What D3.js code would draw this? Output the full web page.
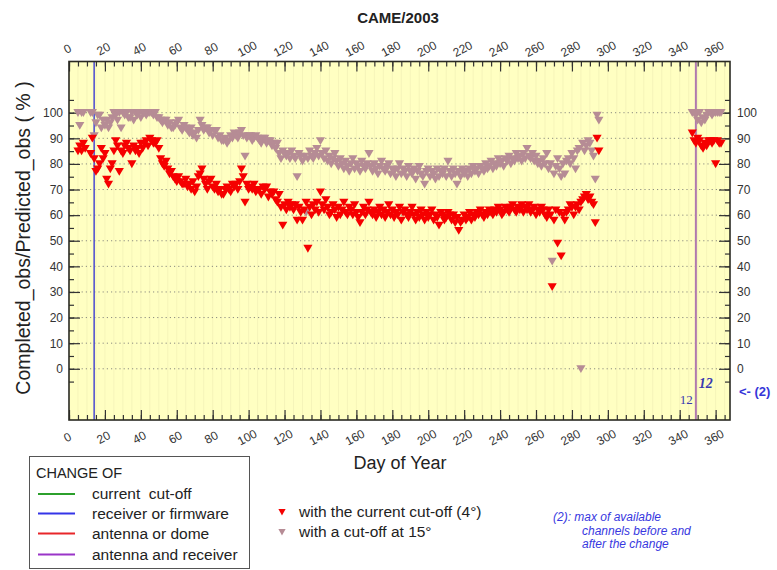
<!DOCTYPE html>
<html>
<head>
<meta charset="utf-8">
<script src="https://cdn.jsdelivr.net/npm/d3@7"></script>
<style>
  body { margin: 0; background: #fff; }
  svg { display: block; font-family: "Liberation Sans", Arial, sans-serif; }
</style>
</head>
<body>
<script>
// DATA
// =============================================================================

const title = "CAME/2003";
const xMajorTicks = [0, 20, 40, 60, 80, 100, 120, 140, 160, 180, 200, 220, 240, 260, 280, 300, 320, 340, 360];
const yMajorTicks = [0, 10, 20, 30, 40, 50, 60, 70, 80, 90, 100];

// first day of each block, then one value per day (null = no value)
const cutoff4FirstDay = 5;
const cutoff4Values = [
  85, 87, 85, 88, 86, null, null, 84, 90, 82,
  77, 78, 80, 86, 82, 84, 74, 72, 78, 80,
  85, 89, 87, 77, 85, 84, 87, 88, 86, 85,
  80, 87, 85, 86, 84, 88, 86, 88, 89, 87,
  90, 89, 88, 88, 89, 86, 82, 80, 79, 81,
  78, 76, 77, 75, 74, 73, 75, 73, 72, 72,
  74, 71, 72, 70, 73, 69, 71, 75, 76, 78,
  74, 72, 70, 73, 74, 71, 70, 72, 69, 70,
  68, 68, 70, 71, 70, 69, 72, 71, 72, 70,
  73, 78, 75, 65, 72, 70, 71, 70, 72, 69,
  70, 70, 68, 71, 70, 71, 67, 69, 68, 69,
  66, 65, 68, 63, 56, 64, 62, 65, 63, 64,
  62, 64, 58, 63, 61, 58, 62, 65, 47, 63,
  60, 64, 62, 65, 61, 69, 64, 62, 66, 63,
  60, 61, 64, 62, 59, 63, 60, 62, 65, 61,
  60, 63, 62, 60, 64, 61, 59, 57, 61, 63,
  60, 62, 65, 61, 60, 62, 59, 61, 63, 60,
  62, 59, 61, 64, 60, 62, 59, 61, 60, 63,
  58, 61, 62, 60, 59, 61, 63, 60, 58, 61,
  59, 62, 60, 58, 61, 59, 60, 62, 58, 60,
  59, 56, 61, 60, 58, 59, 61, 60, 58, 60,
  57, 59, 54, 57, 58, 60, 58, 59, 61, 58,
  60, 59, 61, 60, 62, 60, 59, 61, 60, 62,
  61, 60, 62, 61, 63, 62, 60, 61, 63, 62,
  61, 63, 64, 62, 61, 63, 62, 64, 61, 63,
  62, 64, 61, 62, 63, 60, 62, 61, 63, 62,
  60, 59, 62, 60, 32, 58, 62, 49, 61, 44,
  60, 58, 61, 62, 64, 63, 60, 63, 64, 62,
  65, 66, 67, 68, 66, 67, 65, 64, 57, 90,
  85
];

const cutoff4LateFirstDay = 347;
const cutoff4LateValues = [92, 89, 88, 90, 89, 87, 86, 88, 87, 89, 89, 88, 89, 80, 89, 88, 88];

const cutoff15FirstDay = 5;
const cutoff15Values = [
  100, 95, 100, 100, null, null, null, 100, 100, 91,
  96, 99, 99, 94, 97, 95, 97, 94, 96, 98,
  100, 99, 97, 100, 94, 100, 99, 100, 98, 98,
  100, 97, 100, 99, 100, 98, 100, 100, 99, 100,
  100, 100, 99, 100, 98, 98, 97, 96, 97, 97,
  95, 96, 94, 94, 95, 96, 97, 94, 93, 95,
  94, 93, 92, 94, 91, 92, 90, 93, 97, 95,
  93, 94, 94, 92, 93, 91, 93, 93, 90, 91,
  89, 89, 90, 88, 89, 91, 90, 92, 91, 90,
  92, 93, 91, 83, 90, 91, 91, 89, 90, 91,
  90, 89, 88, 90, 90, 88, 89, 89, 87, 88,
  86, 88, 84, 82, 85, 84, 83, 84, 82, 85,
  83, 82, 75, 84, 83, 81, 83, 61, 82, 85,
  83, 82, 84, 86, 83, 89, 84, 82, 85, 81,
  83, 80, 82, 84, 81, 79, 82, 80, 78, 81,
  79, 77, 80, 82, 78, 80, 79, 77, 81, 79,
  78, 80, 84, 79, 77, 80, 78, 76, 79, 81,
  78, 77, 79, 80, 76, 78, 77, 75, 78, 80,
  76, 78, 77, 75, 79, 77, 76, 78, 74, 77,
  79, 76, 75, 72, 77, 78, 75, 77, 76, 74,
  78, 75, 77, 76, 78, 75, 81, 77, 75, 78,
  76, 72, 77, 75, 78, 76, 77, 75, 78, 76,
  79, 77, 78, 76, 79, 78, 77, 80, 78, 79,
  81, 78, 80, 79, 82, 80, 81, 79, 82, 81,
  83, 80, 82, 81, 84, 82, 83, 81, 84, 82,
  86, 83, 82, 84, 81, 83, 80, 81, 79, 82,
  80, 84, 78, 80, 42, 76, 79, 82, 78, 75,
  80, 76, 81, 82, 80, 84, 82, 78, 85, 86,
  0, 88, 85, 87, 89, 88, 85, 83, 74, 99,
  97
];

const cutoff15LateFirstDay = 347;
const cutoff15LateValues = [100, 100, 99, 97, 100, 96, 98, 97, 99, 100, 100, 99, 100, 100, 100, 100, 100];

// equipment changes (day of year)
const changeDays = [14, 349];
const changeKinds = ["receiver or firmware", "antenna and receiver"];

const legendKinds = ["current  cut-off", "receiver or firmware", "antenna or dome", "antenna and receiver"];
const legendColors = ["#2ca02c", "#3535e8", "#e8262a", "#9a35c8"];

// CONFIG VARS
// =============================================================================

const width = 777;
const height = 570;
const plot = { left: 69, right: 730, top: 61.5, bottom: 420 };

const red = "#f50000";
const mauve = "#b68c95";

function toPoints(firstDay, values) {
  return values
    .map((v, i) => ({ day: firstDay + i, value: v }))
    .filter(d => d.value !== null);
}

// SCALES
// =============================================================================

const xScale = d3.scaleLinear()
    .domain([0, 368])
    .range([plot.left, plot.right]);

const yScale = d3.scaleLinear()
    .domain([-20, 120])
    .range([plot.bottom, plot.top]);

// INITIALIZE THE SVG
// =============================================================================

const svg = d3.select("body")
    .append("svg")
    .attr("width", width)
    .attr("height", height);

svg.append("rect")
    .attr("x", plot.left)
    .attr("y", plot.top)
    .attr("width", plot.right - plot.left)
    .attr("height", plot.bottom - plot.top)
    .attr("fill", "#ffffc2");

// faint vertical stripes
svg.append("g")
    .selectAll("line")
    .data(d3.range(5, 368, 5))
    .enter()
    .append("line")
    .attr("x1", d => xScale(d))
    .attr("x2", d => xScale(d))
    .attr("y1", plot.top)
    .attr("y2", plot.bottom)
    .attr("stroke", "#efedb4")
    .attr("stroke-width", 0.6);

// dotted horizontal grid
svg.append("g")
    .selectAll("line")
    .data(yMajorTicks)
    .enter()
    .append("line")
    .attr("x1", plot.left)
    .attr("x2", plot.right)
    .attr("y1", d => yScale(d))
    .attr("y2", d => yScale(d))
    .attr("stroke", "#8c8c80")
    .attr("stroke-width", 1)
    .attr("stroke-dasharray", "1.2,3");

// change lines
svg.append("line")
    .attr("x1", xScale(changeDays[0])).attr("x2", xScale(changeDays[0]))
    .attr("y1", plot.top).attr("y2", plot.bottom)
    .attr("stroke", "#4a4ad0").attr("stroke-width", 1.5);

svg.append("line")
    .attr("x1", xScale(changeDays[1])).attr("x2", xScale(changeDays[1]))
    .attr("y1", plot.top).attr("y2", plot.bottom)
    .attr("stroke", "#b07aae").attr("stroke-width", 2);

// AXES
// =============================================================================

function styleAxis(g) {
  g.select(".domain").remove();
  g.selectAll(".tick line").attr("stroke", "#333").attr("stroke-width", 1.2);
  g.selectAll("text")
      .attr("fill", "#333")
      .style("font-size", "12px")
      .style("font-family", "'Liberation Sans', Arial, sans-serif");
}

const minorX = d3.range(0, 369, 5);
const minorY = d3.range(-5, 106, 5);

// bottom
svg.append("g")
    .attr("transform", `translate(0,${plot.bottom})`)
    .call(d3.axisBottom(xScale).tickValues(minorX).tickSize(-5).tickFormat(""))
    .call(styleAxis);
svg.append("g")
    .attr("transform", `translate(0,${plot.bottom})`)
    .call(d3.axisBottom(xScale).tickValues(xMajorTicks).tickSize(-10).tickPadding(0))
    .call(styleAxis)
    .selectAll("text")
    .attr("y", 0)
    .attr("dy", 0)
    .attr("transform", "translate(0,21) rotate(-28)");

// top
svg.append("g")
    .attr("transform", `translate(0,${plot.top})`)
    .call(d3.axisTop(xScale).tickValues(minorX).tickSize(-5).tickFormat(""))
    .call(styleAxis);
svg.append("g")
    .attr("transform", `translate(0,${plot.top})`)
    .call(d3.axisTop(xScale).tickValues(xMajorTicks).tickSize(-10).tickPadding(0))
    .call(styleAxis)
    .selectAll("text")
    .attr("y", 0)
    .attr("dy", 0)
    .attr("transform", "translate(0,-9) rotate(-28)");

// left
svg.append("g")
    .attr("transform", `translate(${plot.left},0)`)
    .call(d3.axisLeft(yScale).tickValues(minorY).tickSize(-5).tickFormat(""))
    .call(styleAxis);
svg.append("g")
    .attr("transform", `translate(${plot.left},0)`)
    .call(d3.axisLeft(yScale).tickValues(yMajorTicks).tickSize(-11).tickPadding(6))
    .call(styleAxis);

// right
svg.append("g")
    .attr("transform", `translate(${plot.right},0)`)
    .call(d3.axisRight(yScale).tickValues(minorY).tickSize(-5).tickFormat(""))
    .call(styleAxis);
svg.append("g")
    .attr("transform", `translate(${plot.right},0)`)
    .call(d3.axisRight(yScale).tickValues(yMajorTicks).tickSize(-11).tickPadding(7))
    .call(styleAxis);

// frame
svg.append("rect")
    .attr("x", plot.left)
    .attr("y", plot.top)
    .attr("width", plot.right - plot.left)
    .attr("height", plot.bottom - plot.top)
    .attr("fill", "none")
    .attr("stroke", "#2a2a22")
    .attr("stroke-width", 1.6);

// MARKS
// =============================================================================

const triangle = "M-4.6,-3.6L4.6,-3.6L0,4.2Z";

const redPoints = toPoints(cutoff4FirstDay, cutoff4Values)
    .concat(toPoints(cutoff4LateFirstDay, cutoff4LateValues));
const mauvePoints = toPoints(cutoff15FirstDay, cutoff15Values)
    .concat(toPoints(cutoff15LateFirstDay, cutoff15LateValues));

svg.append("g")
    .selectAll("path")
    .data(mauvePoints)
    .enter()
    .append("path")
    .attr("d", triangle)
    .attr("transform", d => `translate(${xScale(d.day)},${yScale(d.value)})`)
    .attr("fill", mauve);

svg.append("g")
    .selectAll("path")
    .data(redPoints)
    .enter()
    .append("path")
    .attr("d", triangle)
    .attr("transform", d => `translate(${xScale(d.day)},${yScale(d.value)})`)
    .attr("fill", red);

// channel notes near the antenna+receiver change
svg.append("text")
    .attr("x", xScale(changeDays[1]) - 3)
    .attr("y", 404)
    .attr("text-anchor", "end")
    .attr("fill", "#3a3ab0")
    .style("font-family", "'Liberation Serif', 'Times New Roman', serif")
    .style("font-size", "13px")
    .text("12");

svg.append("text")
    .attr("x", xScale(changeDays[1]) + 3)
    .attr("y", 388)
    .attr("fill", "#3a3ab0")
    .style("font-family", "'Liberation Serif', 'Times New Roman', serif")
    .style("font-size", "14px")
    .style("font-weight", "bold")
    .style("font-style", "italic")
    .text("12");

svg.append("text")
    .attr("x", 739)
    .attr("y", 396)
    .attr("fill", "#3535d8")
    .style("font-size", "13px")
    .style("font-weight", "bold")
    .text("<- (2)");

// TITLES
// =============================================================================

svg.append("text")
    .attr("x", 398)
    .attr("y", 23)
    .attr("text-anchor", "middle")
    .attr("fill", "#222")
    .style("font-size", "15px")
    .style("font-weight", "bold")
    .text(title);

svg.append("text")
    .attr("transform", "translate(30,238) rotate(-90)")
    .attr("text-anchor", "middle")
    .attr("fill", "#222")
    .style("font-size", "19.5px")
    .text("Completed_obs/Predicted_obs ( % )");

svg.append("text")
    .attr("x", 400)
    .attr("y", 469)
    .attr("text-anchor", "middle")
    .attr("fill", "#222")
    .style("font-size", "18px")
    .text("Day of Year");

// LEGENDS
// =============================================================================

const legend = svg.append("g");

legend.append("rect")
    .attr("x", 29.5)
    .attr("y", 456.5)
    .attr("width", 220)
    .attr("height", 112)
    .attr("fill", "#fff")
    .attr("stroke", "#555")
    .attr("stroke-width", 1);

legend.append("text")
    .attr("x", 36)
    .attr("y", 478)
    .attr("fill", "#222")
    .style("font-size", "14.5px")
    .text("CHANGE OF");

const rowY = [494, 513.5, 533.5, 554.5];

legend.selectAll(".kind-line")
    .data(legendKinds)
    .enter()
    .append("line")
    .attr("x1", 38)
    .attr("x2", 75)
    .attr("y1", (d, i) => rowY[i])
    .attr("y2", (d, i) => rowY[i])
    .attr("stroke", (d, i) => legendColors[i])
    .attr("stroke-width", 2);

legend.selectAll(".kind-text")
    .data(legendKinds)
    .enter()
    .append("text")
    .attr("x", 92)
    .attr("y", (d, i) => rowY[i] + 5)
    .attr("fill", "#222")
    .style("font-size", "15.5px")
    .style("white-space", "pre")
    .attr("xml:space", "preserve")
    .text(d => d);

const markLegend = [
  { label: "with the current cut-off (4°)", color: red, y: 512 },
  { label: "with a cut-off at 15°", color: mauve, y: 532 }
];

svg.append("g")
    .selectAll("path")
    .data(markLegend)
    .enter()
    .append("path")
    .attr("d", "M-3.6,-3L3.6,-3L0,3.6Z")
    .attr("transform", d => `translate(282,${d.y})`)
    .attr("fill", d => d.color);

svg.append("g")
    .selectAll("text")
    .data(markLegend)
    .enter()
    .append("text")
    .attr("x", 299)
    .attr("y", d => d.y + 5)
    .attr("fill", "#222")
    .style("font-size", "15.5px")
    .text(d => d.label);

const noteLines = [
  { text: "(2): max of available", x: 553, y: 521 },
  { text: "channels before and", x: 582, y: 534.5 },
  { text: "after the change", x: 582, y: 548 }
];

svg.append("g")
    .selectAll("text")
    .data(noteLines)
    .enter()
    .append("text")
    .attr("x", d => d.x)
    .attr("y", d => d.y)
    .attr("fill", "#3838e0")
    .style("font-size", "12px")
    .style("font-style", "italic")
    .text(d => d.text);
</script>
</body>
</html>
